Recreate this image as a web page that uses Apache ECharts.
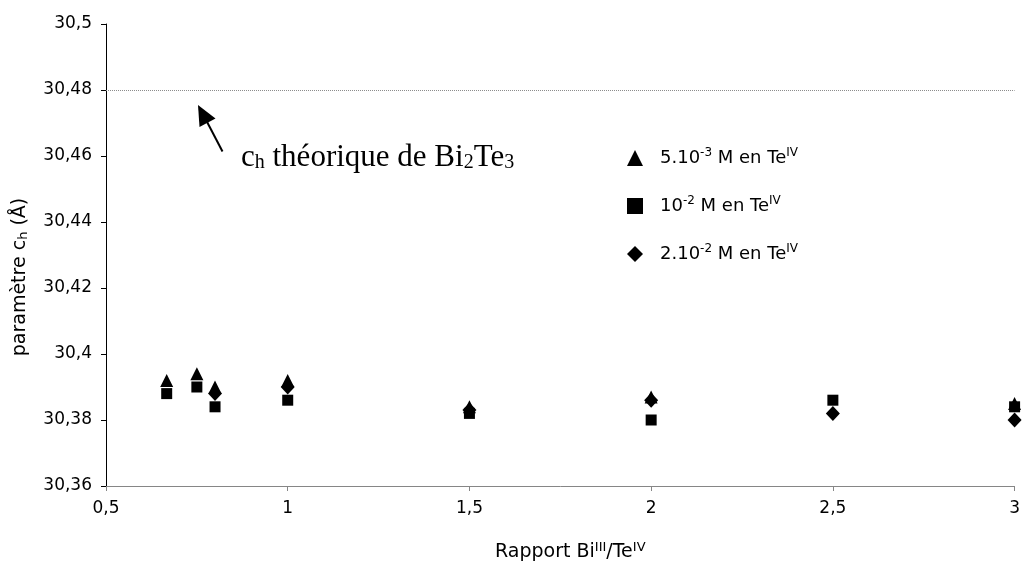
<!DOCTYPE html>
<html>
<head>
<meta charset="utf-8">
<script src="https://cdn.jsdelivr.net/npm/echarts@6/dist/echarts.min.js"></script>
<style>
  html, body { margin: 0; padding: 0; background: #fff; }
  #chart { width: 1023px; height: 567px; }
</style>
</head>
<body>
<div id="chart"></div>
<script>
// ---- Data ----
const seriesNames = ['5.10-3 M en TeIV', '10-2 M en TeIV', '2.10-2 M en TeIV'];
const legendRich = ['5.10{sup|-3} M en Te{sup|IV}', '10{sup|-2} M en Te{sup|IV}', '2.10{sup|-2} M en Te{sup|IV}'];

const ratioA = [0.667, 0.75, 0.8, 1, 1.5, 2, 3];
const cA     = [30.392, 30.394, 30.390, 30.392, 30.384, 30.387, 30.385];

const ratioB = [0.667, 0.75, 0.8, 1, 1.5, 2, 2.5, 3];
const cB     = [30.388, 30.390, 30.384, 30.386, 30.382, 30.380, 30.386, 30.384];

const ratioC = [0.8, 1, 1.5, 2, 2.5, 3];
const cC     = [30.388, 30.390, 30.383, 30.386, 30.382, 30.380];

const cTheory = 30.48;

const yMin = 30.36, yMax = 30.5, yStep = 0.02;
const xMin = 0.5, xMax = 3, xStep = 0.5;

// ---- Chart ----
const pair = (xs, ys) => xs.map((x, i) => [x, ys[i]]);
const fmtComma = v => String(parseFloat(v.toFixed(3))).replace('.', ',');

const chart = echarts.init(document.getElementById('chart'), null, { renderer: 'canvas' });

const sans = 'DejaVu Sans, Liberation Sans, Arial, sans-serif';
const serif = 'Liberation Serif, Times New Roman, serif';

chart.setOption({
  animation: false,
  backgroundColor: '#ffffff',
  grid: { left: 106, right: 0, top: 24, bottom: 79, containLabel: false },
  xAxis: {
    type: 'value',
    min: xMin, max: xMax, interval: xStep,
    name: 'Rapport Bi{sup|III}/Te{sup|IV}',
    nameLocation: 'middle',
    nameGap: 55,
    nameTextStyle: {
      fontFamily: sans, fontSize: 19, color: '#000',
      padding: [0, 0, 0, 20],
      rich: { sup: { fontFamily: sans, fontSize: 13, padding: [0, 0, 10, 0], color: '#000' } }
    },
    axisLine: { show: true, onZero: false, lineStyle: { color: '#868686', width: 1 } },
    axisTick: { show: true, inside: false, length: 5, lineStyle: { color: '#868686' } },
    axisLabel: { color: '#000', fontFamily: sans, fontSize: 17, margin: 14, formatter: fmtComma },
    splitLine: { show: false }
  },
  yAxis: {
    type: 'value',
    min: yMin, max: yMax, interval: yStep,
    name: 'paramètre c{sub|h} (Å)',
    nameLocation: 'middle',
    nameGap: 76,
    nameTextStyle: {
      fontFamily: sans, fontSize: 19, color: '#000',
      padding: [0, 44, 0, 0],
      rich: { sub: { fontFamily: sans, fontSize: 13, padding: [7, 0, 0, 0], color: '#000' } }
    },
    axisLine: { show: true, lineStyle: { color: '#000', width: 1 } },
    axisTick: { show: true, inside: false, length: 5, lineStyle: { color: '#000' } },
    axisLabel: { color: '#000', fontFamily: sans, fontSize: 17, margin: 14, formatter: fmtComma },
    splitLine: { show: false }
  },
  legend: {
    orient: 'vertical',
    left: 622, top: 142,
    itemGap: 26,
    itemWidth: 16, itemHeight: 16,
    selectedMode: false,
    data: seriesNames,
    formatter: name => legendRich[seriesNames.indexOf(name)],
    textStyle: {
      fontFamily: sans, fontSize: 18, color: '#000', lineHeight: 22,
      padding: [0, 0, 0, 12],
      rich: { sup: { fontFamily: sans, fontSize: 12, lineHeight: 22, padding: [0, 0, 10, 0], color: '#000' } }
    }
  },
  series: [
    {
      name: seriesNames[0], type: 'scatter', symbol: 'triangle', symbolSize: 13,
      itemStyle: { color: '#000', opacity: 1 },
      data: pair(ratioA, cA), z: 3
    },
    {
      name: seriesNames[1], type: 'scatter', symbol: 'rect', symbolSize: 11,
      itemStyle: { color: '#000', opacity: 1 },
      data: pair(ratioB, cB), z: 4,
      markLine: {
        silent: true, symbol: 'none', label: { show: false },
        lineStyle: { color: '#8c8c8c', type: 'dotted', width: 1 },
        data: [{ yAxis: cTheory }]
      }
    },
    {
      name: seriesNames[2], type: 'scatter', symbol: 'diamond', symbolSize: [14, 15],
      itemStyle: { color: '#000', opacity: 1 },
      data: pair(ratioC, cC), z: 5
    }
  ],
  graphic: [
    {
      type: 'line', z: 10,
      shape: { x1: 222.5, y1: 151.5, x2: 205, y2: 118 },
      style: { stroke: '#000', lineWidth: 2 }
    },
    {
      type: 'polygon', z: 10,
      shape: { points: [[198, 105], [215.5, 118.5], [199.5, 127]] },
      style: { fill: '#000' }
    },
    {
      type: 'text', z: 10,
      left: 241, top: 142,
      style: {
        text: 'c{sub|h} théorique de Bi{sub|2}Te{sub|3}',
        fontFamily: serif,
        fontSize: 31, fill: '#000',
        rich: {
          sub: { fontFamily: serif, fontSize: 20, padding: [11, 0, 0, 0], fill: '#000' }
        }
      }
    }
  ]
});
</script>
</body>
</html>
